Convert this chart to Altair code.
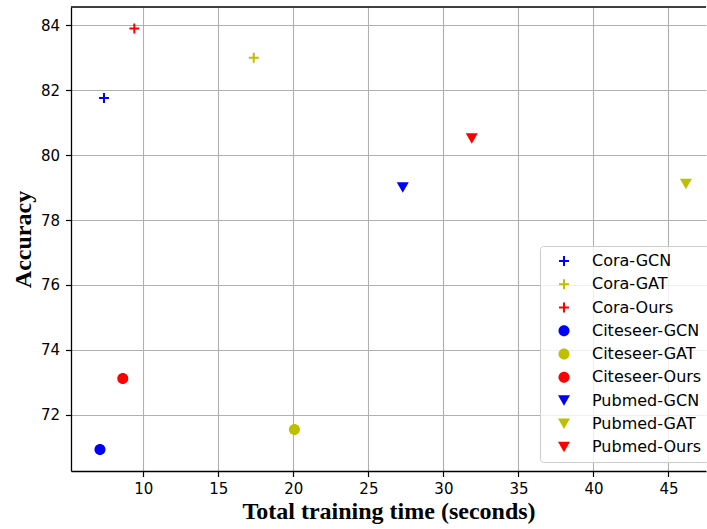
import altair as alt
import pandas as pd

labels = ["Cora-GCN", "Cora-GAT", "Cora-Ours",
          "Citeseer-GCN", "Citeseer-GAT", "Citeseer-Ours",
          "Pubmed-GCN", "Pubmed-GAT", "Pubmed-Ours"]
times = [7.38, 17.36, 9.40, 7.11, 20.07, 8.63, 27.29, 46.16, 31.89]
accuracy = [81.76, 83.00, 83.90, 70.93, 71.55, 73.12, 79.00, 79.11, 80.51]
colors = ["#0000ff", "#bfbf00", "#ff0000"] * 3

PLUS = "M-0.83,-0.17H-0.17V-0.83H0.17V-0.17H0.83V0.17H0.17V0.83H-0.17V0.17H-0.83Z"
CIRCLE = "M0.92,0A0.92,0.92,0,1,1,-0.92,0A0.92,0.92,0,1,1,0.92,0Z"
shapes = [PLUS] * 3 + [CIRCLE] * 3 + ["triangle-down"] * 3

x_ticks = [10, 15, 20, 25, 30, 35, 40, 45]
y_ticks = [72, 74, 76, 78, 80, 82, 84]

df = pd.DataFrame({"label": labels, "time": times, "acc": accuracy})

W, H = 635, 464

points = alt.Chart(df).mark_point(filled=True, opacity=1, size=144).encode(
    x=alt.X("time:Q",
            scale=alt.Scale(domain=[5.18, 47.5], nice=False, zero=False),
            axis=alt.Axis(values=x_ticks, title="Total training time (seconds)",
                          labelPadding=5, titlePadding=3)),
    y=alt.Y("acc:Q",
            scale=alt.Scale(domain=[70.27, 84.56], nice=False, zero=False),
            axis=alt.Axis(values=y_ticks, title="Accuracy",
                          labelPadding=6, titlePadding=5)),
    color=alt.Color("label:N", scale=alt.Scale(domain=labels, range=colors), title=None),
    shape=alt.Shape("label:N", scale=alt.Scale(domain=labels, range=shapes), title=None),
)

top_spine = alt.Chart(alt.Data(values=[{}])).mark_rule(color="black", strokeWidth=1.3).encode(
    x=alt.value(0), x2=alt.value(W), y=alt.value(0)
)

chart = alt.layer(points, top_spine).properties(
    width=W, height=H,
    autosize=alt.AutoSizeParams(type="none"),
    padding={"left": 71, "top": 7, "right": 1, "bottom": 58},
).configure_view(stroke=None).configure_axis(
    grid=True, gridColor="#b0b0b0", gridWidth=1.1,
    domainColor="black", domainWidth=1.3,
    tickColor="black", tickWidth=1.2, tickSize=5.5,
    labelFont="DejaVu Sans", labelFontSize=15, labelColor="black",
    titleFont="Liberation Serif", titleFontSize=24, titleFontWeight="bold",
    titleColor="black",
).configure_legend(
    orient="none", legendX=469, legendY=239,
    padding=7, strokeColor="#cccccc", fillColor="rgba(255,255,255,0.8)",
    cornerRadius=3, labelFont="DejaVu Sans", labelFontSize=16,
    labelColor="black", symbolSize=144, rowPadding=7.25,
    symbolOffset=9, labelOffset=20, symbolStrokeWidth=0,
)

chart.save("out.html", embed_options={"renderer": "svg", "actions": False})
